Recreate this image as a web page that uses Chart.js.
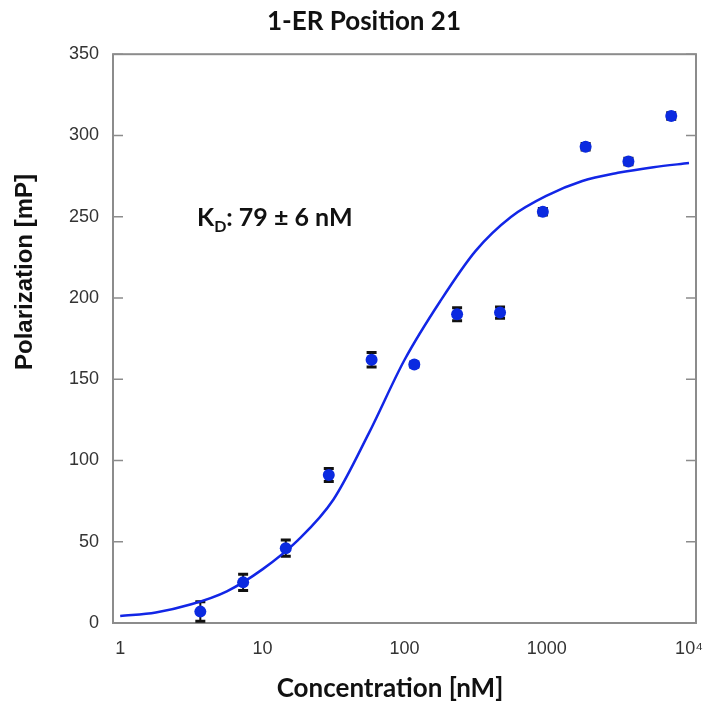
<!DOCTYPE html>
<html>
<head>
<meta charset="utf-8">
<title>1-ER Position 21</title>
<script src="https://cdn.jsdelivr.net/npm/chart.js@4.4.1/dist/chart.umd.min.js"></script>
<style>
  html, body { margin: 0; padding: 0; background: #fff; }
</style>
</head>
<body>
<canvas id="myChart" width="706" height="715"></canvas>
<script>
// Measured points, 2-fold dilution series
const concentration = [3.66, 7.32, 14.6, 29.3, 58.6, 117, 234, 469, 938, 1875, 3750, 7500];
const polarization = [7, 25, 46, 91, 162, 159, 190, 191, 253, 293, 284, 312];
const polarizationErr = [6, 5, 5, 4, 4.5, 1.5, 4, 3.5, 2, 2, 2, 2];

// Fitted binding curve at quarter decades
const fitConc = [1, 1.78, 3.16, 5.62, 10, 17.8, 31.6, 56.2, 100, 178, 316, 562, 1000, 1778, 3162, 5623, 10000];
const fitPolarization = [4.3, 6.5, 11.5, 19.5, 33, 51, 76, 117, 162, 198, 229, 250, 263, 272, 277, 280.5, 283];

const xTicks = [1, 10, 100, 1000, 10000];
const xTickLabels = ['1', '10', '100', '1000', '10⁴'];
const yTicks = [0, 50, 100, 150, 200, 250, 300, 350];

const tickFont = { family: '"Liberation Sans", Arial, sans-serif', size: 18 };
const boldFont = 'Lato, "Open Sans", sans-serif';

// grey box round the plot with inward ticks on both sides
const frame = {
    id: 'frame',
    beforeDatasetsDraw(chart) {
        const { ctx, chartArea: a, scales: { y } } = chart;
        ctx.save();
        ctx.strokeStyle = '#8c8c8c';
        ctx.lineWidth = 2;
        ctx.strokeRect(a.left, a.top, a.right - a.left, a.bottom - a.top);
        ctx.lineWidth = 1.5;
        ctx.beginPath();
        yTicks.forEach(v => {
            const py = y.getPixelForValue(v);
            ctx.moveTo(a.left, py); ctx.lineTo(a.left + 10, py);
            ctx.moveTo(a.right - 10, py); ctx.lineTo(a.right, py);
        });
        ctx.stroke();
        ctx.restore();
    }
};

// error bars, drawn under the markers
const errorBars = {
    id: 'errorBars',
    beforeDatasetsDraw(chart) {
        const { ctx, scales: { x, y } } = chart;
        ctx.save();
        ctx.strokeStyle = '#111';
        concentration.forEach((c, i) => {
            const px = x.getPixelForValue(c);
            const top = y.getPixelForValue(polarization[i] + polarizationErr[i]);
            const bot = y.getPixelForValue(polarization[i] - polarizationErr[i]);
            ctx.lineWidth = 2;
            ctx.beginPath();
            ctx.moveTo(px, top); ctx.lineTo(px, bot);
            ctx.stroke();
            ctx.lineWidth = 3;
            ctx.beginPath();
            ctx.moveTo(px - 5, top); ctx.lineTo(px + 5, top);
            ctx.moveTo(px - 5, bot); ctx.lineTo(px + 5, bot);
            ctx.stroke();
        });
        ctx.restore();
    }
};

// axis titles (both sit off-centre in the original) and the KD label
const annotations = {
    id: 'annotations',
    afterDraw(chart) {
        const { ctx, chartArea: a } = chart;
        ctx.save();
        ctx.fillStyle = '#111';
        ctx.textAlign = 'center';
        ctx.textBaseline = 'middle';
        ctx.font = 'bold 26px ' + boldFont;
        ctx.fillText('Concentration [nM]', 390, 689);
        ctx.translate(25, 272);
        ctx.rotate(-Math.PI / 2);
        ctx.font = 'bold 24px "Liberation Sans", Arial, sans-serif';
        ctx.fillText('Polarization [mP]', 0, 0);
        ctx.restore();

        ctx.save();
        ctx.fillStyle = '#111';
        ctx.textBaseline = 'alphabetic';
        let tx = a.left + 84;
        const ty = a.top + 172;
        ctx.font = 'bold 25px ' + boldFont;
        ctx.fillText('K', tx, ty);
        tx += ctx.measureText('K').width;
        ctx.font = 'bold 16px ' + boldFont;
        ctx.fillText('D', tx, ty + 6);
        tx += ctx.measureText('D').width;
        ctx.font = 'bold 25px ' + boldFont;
        ctx.fillText(': 79 ± 6 nM', tx, ty);
        ctx.restore();
    }
};

const ctx = document.getElementById('myChart').getContext('2d');
const myChart = new Chart(ctx, {
    data: {
        datasets: [
            {
                type: 'scatter',
                label: 'Data',
                data: concentration.map((c, i) => ({ x: c, y: polarization[i] })),
                backgroundColor: '#0b2ae0',
                borderWidth: 0,
                pointRadius: 6,
                order: 0
            },
            {
                type: 'line',
                label: 'Fit',
                data: fitConc.map((c, i) => ({ x: c, y: fitPolarization[i] })),
                borderColor: '#1226e6',
                borderWidth: 2.5,
                pointRadius: 0,
                cubicInterpolationMode: 'monotone',
                fill: false,
                order: 1
            }
        ]
    },
    options: {
        responsive: false,
        animation: false,
        layout: { padding: { left: 32, right: 10, top: 0, bottom: 0 } },
        plugins: {
            legend: { display: false },
            tooltip: { enabled: false },
            title: {
                display: true,
                text: '1-ER Position 21',
                color: '#111',
                font: { family: boldFont, size: 26, weight: 'bold' },
                padding: { top: 6, bottom: 17 }
            }
        },
        scales: {
            x: {
                type: 'logarithmic',
                position: 'bottom',
                min: 0.89,
                max: 11200,
                afterBuildTicks: s => { s.ticks = xTicks.map(v => ({ value: v })); },
                afterFit: s => { s.height = 92; },
                // invisible tick marks push the labels down without widening the side padding
                grid: { display: true, drawOnChartArea: false, drawTicks: true, tickLength: 15, color: 'rgba(0,0,0,0)' },
                border: { display: false },
                ticks: {
                    callback: (v, i) => xTickLabels[i],
                    padding: 0,
                    color: '#333',
                    font: tickFont,
                    maxRotation: 0,
                    autoSkip: false
                }
            },
            y: {
                min: 0,
                max: 350,
                afterBuildTicks: s => { s.ticks = yTicks.map(v => ({ value: v })); },
                afterFit: s => { s.width = 81; },
                grid: { display: false, drawTicks: false },
                border: { display: false },
                ticks: { padding: 14, color: '#333', font: tickFont }
            }
        }
    },
    plugins: [frame, errorBars, annotations]
});
</script>
</body>
</html>
